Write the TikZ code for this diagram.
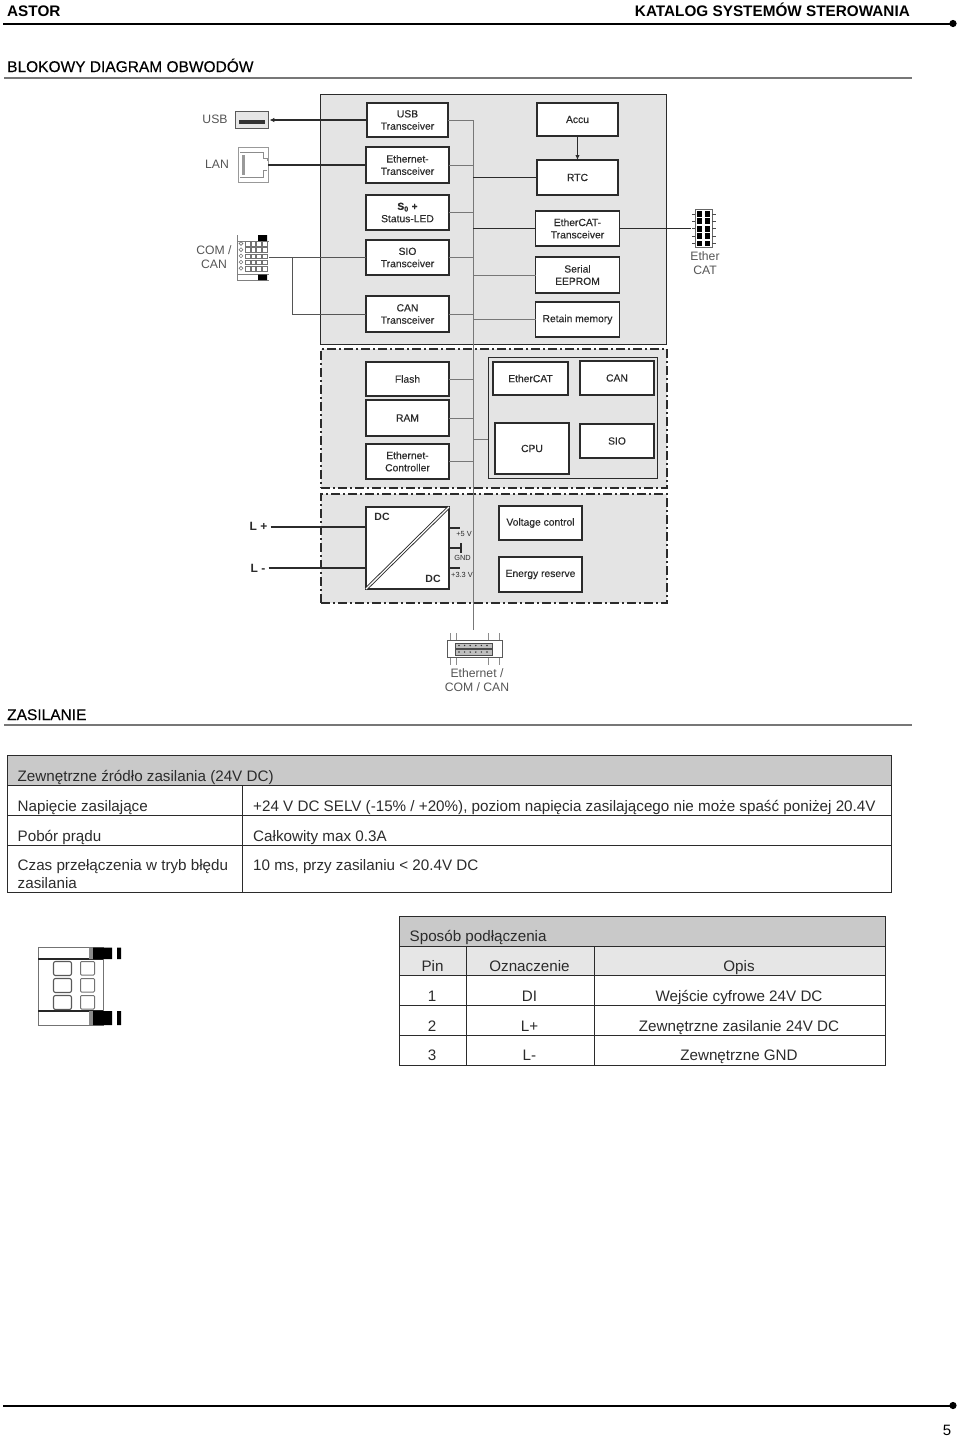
\documentclass[tikz,border=0pt]{standalone}
\usepackage{fontspec}
\setmainfont{Liberation Sans}
\newfontfamily\boxfont[FakeBold=0.25]{Liberation Sans}
\usepackage{tikz}
\usetikzlibrary{arrows.meta,positioning}
\definecolor{panelgray}{HTML}{E4E4E4}
\definecolor{headgray}{HTML}{C9C9C9}
\definecolor{subgray}{HTML}{E6E6E6}
\definecolor{ink}{HTML}{2B2B2B}
\definecolor{busgray}{HTML}{777777}
\definecolor{labelgray}{HTML}{555555}

\begin{document}
\begin{tikzpicture}[
x=1pt, y=-1pt,
box/.style={draw=ink, line width=1.1pt, fill=white, rectangle, inner sep=0pt, outer sep=0pt, minimum width=83pt, align=center, text=ink, font=\boxfont\fontsize{10.3}{12.3}\selectfont},
panel/.style={draw=ink, line width=1pt, fill=panelgray, rectangle, inner sep=0pt, outer sep=0pt, minimum width=346pt},
dashpanel/.style={panel, line width=2pt, dash pattern=on 9pt off 3pt on 2pt off 3pt},
bus/.style={draw=busgray, line width=.9pt},
wire/.style={draw=ink, line width=1.1pt},
thinwire/.style={draw=labelgray, line width=.9pt},
arrow/.style={wire, -{Latex[length=5pt, width=4.5pt]}},
iconlabel/.style={align=center, inner sep=0pt, text=labelgray, font=\fontsize{12.2}{14}\selectfont},
tinylabel/.style={inner sep=0pt, text=ink, font=\fontsize{7.4}{9}\selectfont},
powerlabel/.style={inner sep=0pt, text=ink, font=\bfseries\fontsize{10.5}{12}\selectfont},
headtext/.style={anchor=base west, inner sep=0pt, font=\bfseries\fontsize{15.3}{17}\selectfont},
sectiontext/.style={anchor=base west, inner sep=0pt, font=\boxfont\fontsize{15.5}{17}\selectfont},
celltext/.style={anchor=base west, inner sep=0pt, text=ink, font=\fontsize{15.2}{17}\selectfont},
centertext/.style={anchor=base, inner sep=0pt, text=ink, font=\fontsize{15.2}{17}\selectfont},
tablerule/.style={draw=ink, line width=1pt},
pagerule/.style={draw=black, line width=2pt},
sectionrule/.style={draw=busgray, line width=1.5pt}
]
\useasboundingbox (0,0) rectangle (960,1438);

% page head
\node[headtext] (astor) at (7,16) {ASTOR};
\node[headtext, anchor=base east] (katalog) at (910,16) {KATALOG SYSTEMÓW STEROWANIA};
\draw[pagerule] (3,23.5) -- (953,23.5);
\fill (953,23.5) circle (3.6);
\node[sectiontext] (blokowy) at (7,72) {BLOKOWY DIAGRAM OBWODÓW};
\draw[sectionrule] (4,78) -- (912,78);

% panels
\node[panel, minimum height=250pt] (toppanel) at (493.5,219) {};
\node[dashpanel, minimum height=139pt] (midpanel) at (494,418.5) {};
\node[dashpanel, minimum height=109pt] (lowpanel) at (494,548.5) {};
\node[panel, minimum width=169pt, minimum height=121pt] (cpupanel) at (572.5,417.5) {};

% left column
\node[box, minimum width=81pt, minimum height=34pt] (usbtrans) at (407.5,120) {USB\\Transceiver};
\node[box, minimum height=36pt, below=10pt of usbtrans] (ethtrans) {Ethernet-\\Transceiver};
\node[box, minimum height=35pt, below=12pt of ethtrans] (status) {\textbf{S\textsubscript{0} +}\\Status-LED};
\node[box, minimum height=35pt, below=10pt of status] (siotrans) {SIO\\Transceiver};
\node[box, minimum height=36pt, below=21pt of siotrans] (cantrans) {CAN\\Transceiver};

% right column
\node[box, minimum width=81pt, minimum height=33pt] (accu) at (577.5,119.5) {Accu};
\node[box, minimum width=81pt, minimum height=35pt, below=24pt of accu] (rtc) {RTC};
\node[box, minimum width=84pt, minimum height=35pt, below=16pt of rtc] (ecattrans) {EtherCAT-\\Transceiver};
\node[box, minimum width=84pt, minimum height=36pt, below=11pt of ecattrans] (eeprom) {Serial\\EEPROM};
\node[box, minimum width=84pt, minimum height=35pt, below=9pt of eeprom] (retain) {Retain memory};

% memory and cpu
\node[box, minimum height=34pt] (flash) at (407.5,379) {Flash};
\node[box, minimum height=36pt, below=4pt of flash] (ram) {RAM};
\node[box, minimum height=35pt, below=8pt of ram] (ethctrl) {Ethernet-\\Controller};
\node[box, minimum width=75pt, minimum height=33pt] (ecat) at (530.5,378.5) {EtherCAT};
\node[box, minimum width=74pt, minimum height=34pt] (can) at (617,378) {CAN};
\node[box, minimum width=74pt, minimum height=51pt] (cpu) at (532,448.5) {CPU};
\node[box, minimum width=74pt, minimum height=34pt] (sio) at (617,441) {SIO};

% power
\node[box, minimum height=82pt] (dcconv) at (407.5,548) {};
\node[box, minimum height=34pt] (voltage) at (540.5,523) {Voltage control};
\node[box, minimum height=35pt] (energy) at (540.5,574.5) {Energy reserve};
\draw[wire, double=white, double distance=1.3pt, line width=.9pt] (dcconv.south west) -- (dcconv.north east);
\node[powerlabel] (dcin) at (382,517) {DC};
\node[powerlabel] (dcout) at (433,579) {DC};

% bus
\coordinate (busend) at (473,630);
\draw[bus] (usbtrans.east) -| (busend);
\foreach \src in {ethtrans,status,siotrans,cantrans,flash,ram,ethctrl}
  \draw[bus] (\src.east) -- (\src.east -| busend);
\draw[wire] (rtc.west) -- (rtc.west -| busend);
\draw[wire] (ecattrans.west) -- (ecattrans.west -| busend);
\draw[bus] (eeprom.west) -- (eeprom.west -| busend);
\draw[bus] (retain.west) -- (retain.west -| busend);
\coordinate (cpujoin) at (cpupanel.west |- 0,439);
\draw[bus] (cpujoin) -- (cpujoin -| busend);
\draw[arrow] (accu) -- (rtc);

% connectors on the left
\node[draw=black!65, line width=1.8pt, fill=subgray, minimum width=33pt, minimum height=17pt, inner sep=0pt] (usbicon) at (252,120) {};
\fill[black!80] (239,120) rectangle (265,123.5);
\node[iconlabel] (usblabel) at (215,119) {USB};
\node[draw=black!40, line width=.8pt, fill=white, minimum width=30pt, minimum height=35pt, inner sep=0pt] (lanicon) at (253,164.5) {};
\draw[black!45, line width=.7pt] (240,152) -- (263,152) -- (263,158) -- (267,158) -- (267,161) (267,170) -- (263,170) -- (263,177) -- (240,177);
\fill[black!40] (242,155) rectangle (245,175);
\node[iconlabel] (lanlabel) at (217,164) {LAN};
\node[minimum width=32pt, minimum height=45pt, inner sep=0pt] (comicon) at (253,257.5) {};
\draw[black!50, line width=.7pt] (237,235) -- (237,280) -- (269,280) (237,274.5) -- (269,274.5) (237,241) -- (269,241);
\fill[black] (258,235) rectangle (267,241) (258,274.5) rectangle (267,280);
\foreach \row in {0,...,4}{
  \draw[black!55, line width=.6pt] (241,243.5+6.2*\row) circle (1.9);
  \foreach \col in {0,...,3}
    \draw[black!55, line width=.6pt] (245.5+5.6*\col,241.5+6.2*\row) rectangle ++(4.6,4.6);
}
\node[iconlabel] (comlabel) at (214,257.5) {COM /\\CAN};
\coordinate (canjoin) at (292,257);
\draw[arrow] (usbtrans.west) -- (usbicon.east);
\draw[wire] (ethtrans.west) -- (ethtrans.west -| lanicon.east);
\draw[thinwire] (comicon.east |- canjoin) -- (siotrans.west |- canjoin);
\draw[thinwire] (canjoin) |- (cantrans.west);

% ethercat connector
\node[minimum width=24pt, minimum height=38pt, inner sep=0pt] (ecaticon) at (703.5,228) {};
\draw[black!60, line width=.7pt] (695,209) rectangle (712,247);
\foreach \row in {0,...,4}{
  \fill[black] (697,211+7.4*\row) rectangle ++(5.2,5.8);
  \fill[black] (705,211+7.4*\row) rectangle ++(5.2,5.8);
  \draw[black!70, line width=.8pt] (692,214+7.4*\row) -- (695,214+7.4*\row) (712,214+7.4*\row) -- (715.5,214+7.4*\row);
}
\node[iconlabel] (ecatlabel) at (705,263.5) {Ether\\CAT};
\draw[wire] (ecattrans.east) -- (ecattrans.east -| ecaticon.west);

% supply pins
\node[powerlabel, font=\bfseries\fontsize{12}{14}\selectfont] (lplus) at (258.5,526) {L +};
\node[powerlabel, font=\bfseries\fontsize{12}{14}\selectfont] (lminus) at (258,568) {L -};
\draw[wire] (lplus.east) ++(3,1) coordinate (lplusend) -- (lplusend -| dcconv.west);
\draw[wire] (lminus.east) ++(3,0) coordinate (lminusend) -- (lminusend -| dcconv.west);
\coordinate (fivev) at (460,528);
\coordinate (gndpin) at (461,548);
\coordinate (threev) at (460,568);
\draw[wire] (fivev -| dcconv.east) -- (fivev);
\draw[wire] (gndpin -| dcconv.east) -- (gndpin) (461,543) -- (461,553);
\draw[wire] (threev -| dcconv.east) -- (threev);
\node[tinylabel] (fivelabel) at (464,533.5) {+5 V};
\node[tinylabel] (gndlabel) at (462.5,558) {GND};
\node[tinylabel] (threelabel) at (462,575) {+3.3 V};

% bottom connector
\node[minimum width=56pt, minimum height=32pt, inner sep=0pt] (ethicon) at (474.5,649) {};
\draw[black!45, line width=.7pt] (450,633) -- (450,665) (456,633) -- (456,665) (488,633) -- (488,665) (499,633) -- (499,665);
\draw[black!65, line width=1pt, fill=white] (447,640) rectangle (502,657);
\draw[black!70, line width=.7pt, fill=black!25] (455,643) rectangle (492,648) (455,649.5) rectangle (492,655);
\foreach \pin in {0,...,5}{
  \fill[black!80] (459+5.6*\pin,645.5) circle (.8);
  \fill[black!80] (459+5.6*\pin,652) circle (.8);
}
\node[iconlabel] (ethlabel) at (477,680) {Ethernet /\\COM / CAN};

% supply table
\node[sectiontext] (zasilanie) at (7,720) {ZASILANIE};
\draw[sectionrule] (4,725) -- (912,725);
\draw[tablerule, fill=headgray] (7,755.5) rectangle (891,785);
\draw[tablerule] (7,785) rectangle (891,892);
\foreach \rowy in {815,845.5}
  \draw[tablerule] (7,\rowy) -- (891,\rowy);
\draw[tablerule] (242,785) -- (242,892);
\node[celltext] (supplyhead) at (17.5,781) {Zewnętrzne źródło zasilania (24V DC)};
\node[celltext] (voltname) at (17.5,811) {Napięcie zasilające};
\node[celltext] (voltvalue) at (253,811) {+24 V DC SELV (-15\% / +20\%), poziom napięcia zasilającego nie może spaść poniżej 20.4V};
\node[celltext] (currname) at (17.5,841) {Pobór prądu};
\node[celltext] (currvalue) at (253,841) {Całkowity max 0.3A};
\node[celltext] (timename) at (17.5,870.5) {Czas przełączenia w tryb błędu};
\node[celltext] (timename2) at (17.5,888) {zasilania};
\node[celltext] (timevalue) at (253,870.5) {10 ms, przy zasilaniu < 20.4V DC};

% terminal
\node[minimum width=84pt, minimum height=78pt, inner sep=0pt] (terminal) at (79,986) {};
\draw[black!55, line width=1pt] (38,947.5) rectangle (103,1025);
\draw[black!85, line width=1.4pt] (38,959) -- (103,959) (38,1011) -- (103,1011);
\fill[black!45] (89,947.5) rectangle (93,959) (89,1011) rectangle (93,1025);
\fill[black] (93,947.5) rectangle (112,959) (93,1011) rectangle (112,1025) (117,947.5) rectangle (121,959) (117,1011) rectangle (121,1025);
\foreach \rowy in {961.5,978.5,995.5}{
  \draw[black!65, line width=1.1pt, rounded corners=2pt] (53.5,\rowy) rectangle ++(18,14);
  \draw[black!55, line width=1pt, rounded corners=1pt] (80.5,\rowy) rectangle ++(14,13.5);
}

% wiring table
\draw[tablerule, fill=headgray] (399,916) rectangle (885,946);
\draw[tablerule, fill=subgray] (399,946) rectangle (885,975.5);
\draw[tablerule] (399,975.5) rectangle (885,1065);
\foreach \rowy in {1005,1035}
  \draw[tablerule] (399,\rowy) -- (885,\rowy);
\draw[tablerule] (466,946) -- (466,1065) (594,946) -- (594,1065);
\node[celltext] (wirehead) at (409.5,941) {Sposób podłączenia};
\node[centertext] (pinhead) at (432.5,971) {Pin};
\node[centertext] (symhead) at (529.5,971) {Oznaczenie};
\node[centertext] (opishead) at (739,971) {Opis};
\foreach \pin/\sym/\opis/\rowy in {1/DI/Wejście cyfrowe 24V DC/1001,2/L+/Zewnętrzne zasilanie 24V DC/1031,3/L-/Zewnętrzne GND/1060}{
  \node[centertext] (pin\pin) at (432,\rowy) {\pin};
  \node[centertext] (sym\pin) at (529.5,\rowy) {\sym};
  \node[centertext] (opis\pin) at (739,\rowy) {\opis};
}

% page foot
\draw[pagerule] (3,1405.5) -- (953,1405.5);
\fill (953,1405.5) circle (3.6);
\node[centertext, text=black, font=\fontsize{15}{17}\selectfont] (pageno) at (947,1435) {5};
\end{tikzpicture}
\end{document}
